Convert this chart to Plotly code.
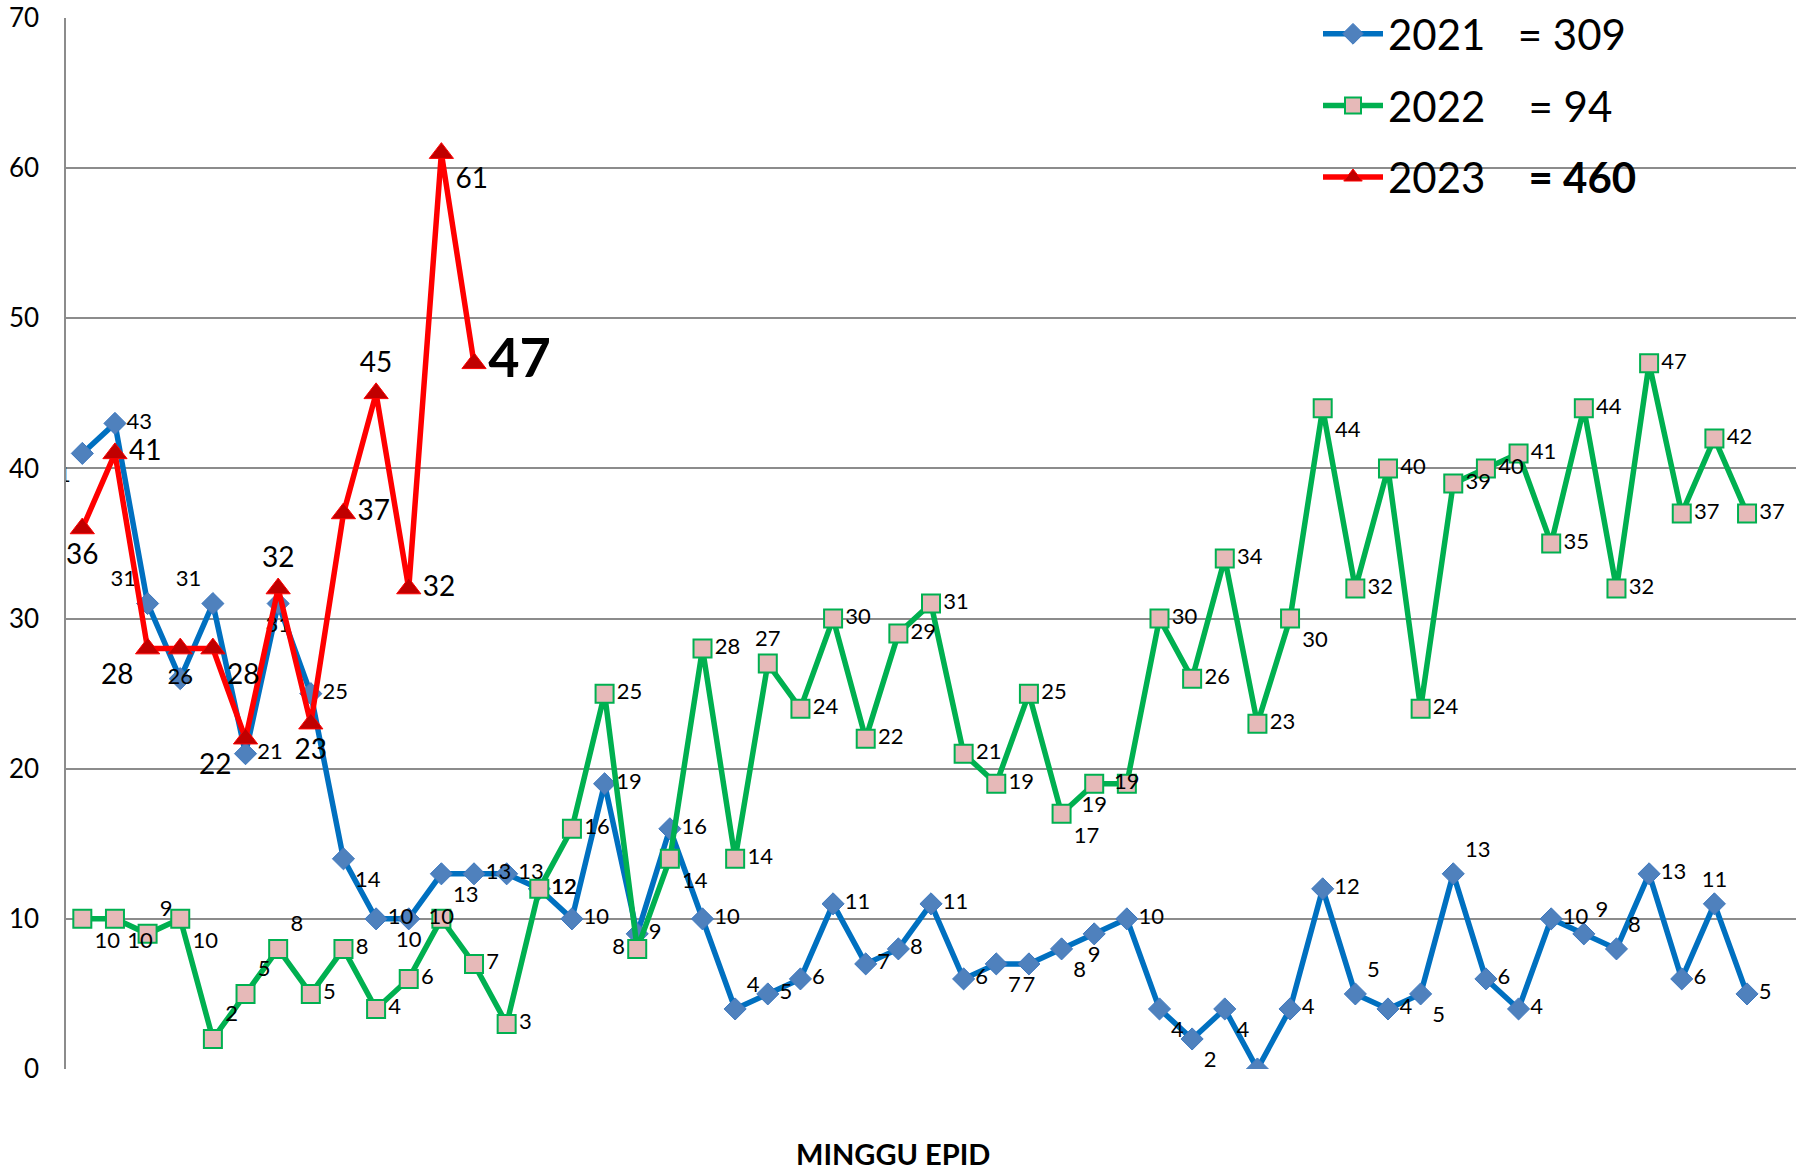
import plotly.graph_objects as go

weeks_2021 = list(range(1, 53))
vals_2021 = [41, 43, 31, 26, 31, 21, 31, 25, 14, 10, 10, 13, 13, 13, 12, 10, 19, 9, 16, 10,
             4, 5, 6, 11, 7, 8, 11, 6, 7, 7, 8, 9, 10, 4, 2, 4, 0, 4, 12, 5,
             4, 5, 13, 6, 4, 10, 9, 8, 13, 6, 11, 5]
weeks_2022 = list(range(1, 53))
vals_2022 = [10, 10, 9, 10, 2, 5, 8, 5, 8, 4, 6, 10, 7, 3, 12, 16, 25, 8, 14, 28,
             14, 27, 24, 30, 22, 29, 31, 21, 19, 25, 17, 19, 19, 30, 26, 34, 23, 30, 44, 32,
             40, 24, 39, 40, 41, 35, 44, 32, 47, 37, 42, 37]
weeks_2023 = list(range(1, 14))
vals_2023 = [36, 41, 28, 28, 28, 22, 32, 23, 37, 45, 32, 61, 47]

series_names = ["2021\u00a0\u00a0\u00a0= 309", "2022\u00a0\u00a0\u00a0\u00a0= 94", "2023\u00a0\u00a0\u00a0\u00a0<b>= 460</b>"]
y_ticks = [0, 10, 20, 30, 40, 50, 60, 70]
x_title = "MINGGU EPID"

# label placement (style)
MR = "middle right"
pos_2021 = [MR] * 52
for i, p in {1: "bottom left", 3: "top left", 4: "middle center", 5: "top left",
             7: "bottom center", 9: "bottom right", 11: "bottom center", 12: "bottom right",
             21: "top right",
             29: "bottom right", 30: "bottom center", 31: "bottom right", 32: "bottom center",
             34: "bottom right", 35: "bottom right", 36: "bottom right", 37: "bottom right",
             40: "top right", 42: "bottom right", 43: "top right", 47: "top right", 48: "top right",
             51: "top center"}.items():
    pos_2021[i - 1] = p
pos_2022 = [MR] * 52
for i, p in {1: "bottom right", 2: "bottom right", 3: "top right", 4: "bottom right", 5: "top right",
             6: "top right", 7: "top right", 12: "middle center", 18: "middle left", 19: "bottom right",
             22: "top center", 31: "bottom right", 32: "bottom center", 33: "middle center",
             38: "bottom right", 39: "bottom right"}.items():
    pos_2022[i - 1] = p
pos_2023 = ["bottom center", MR, "bottom left", "top center", "bottom right", "bottom left",
            "top center", "bottom center", MR, "top center", MR, "bottom right", MR]

text_2023 = [str(v) for v in vals_2023]
text_2023[3] = ""
text_2023[-1] = "<b>" + text_2023[-1] + "</b>"
size_2023 = [28] * len(vals_2023)
size_2023[-1] = 54

FONT = "Lato, 'Open Sans', sans-serif"

fig = go.Figure()
fig.add_trace(go.Scatter(
    x=weeks_2021, y=vals_2021, name=series_names[0], mode="lines+markers+text", legendgroup="a",
    line=dict(color="#0070C0", width=5.5),
    marker=dict(symbol="diamond", size=17, color="#4F81BD", line=dict(color="#3C78C0", width=1)),
    text=[str(v) for v in vals_2021], textposition=pos_2021,
    textfont=dict(size=22, color="black", family=FONT),
))
fig.add_trace(go.Scatter(
    x=weeks_2022, y=vals_2022, name=series_names[1], mode="lines+markers+text", legendgroup="b",
    line=dict(color="#00B050", width=5.5),
    marker=dict(symbol="square", size=18, color="#E6B9B8", line=dict(color="#00B050", width=2)),
    text=[str(v) for v in vals_2022], textposition=pos_2022,
    textfont=dict(size=22, color="black", family=FONT),
))
fig.add_trace(go.Scatter(
    x=weeks_2023, y=vals_2023, name=series_names[2], mode="lines+markers+text", legendgroup="c",
    line=dict(color="#FF0000", width=5.5),
    marker=dict(symbol="triangle-up", size=21, color="#C00000", line=dict(color="#FF0000", width=1)),
    text=text_2023, textposition=pos_2023,
    textfont=dict(size=size_2023, color="black", family=FONT),
))

fig.update_layout(
    width=1796, height=1171,
    margin=dict(l=66, r=0, t=18, b=102, autoexpand=False),
    paper_bgcolor="white", plot_bgcolor="white",
    font=dict(family=FONT, color="black"),
    showlegend=True,
    legend=dict(x=1318 / 1796, y=1 - 0 / 1171, xref="container", yref="container",
                xanchor="left", yanchor="top", bgcolor="rgba(0,0,0,0)",
                font=dict(size=42, color="black", family=FONT), tracegroupgap=14,
                itemwidth=60),
    xaxis=dict(range=[0.5, 53.5], showticklabels=False, showgrid=False, zeroline=False,
               ticks="", showline=False, automargin=False),
    yaxis=dict(range=[0, 70], tickvals=y_ticks, showgrid=True, gridcolor="#8C8C8C", gridwidth=1.5,
               zeroline=False, showline=True, linecolor="#8C8C8C", linewidth=1.5,
               tickfont=dict(size=26, color="black", family=FONT), ticks="",
               ticklabelstandoff=20, automargin=False),
    annotations=[dict(text="<b>" + x_title + "</b>", x=0.478, y=-0.08, xref="paper", yref="paper",
                      xanchor="center", yanchor="middle", showarrow=False,
                      font=dict(size=29, color="black", family=FONT))],
)

fig.write_html("out.html", config={"displayModeBar": False},
               post_script="document.body.style.margin='0';document.body.style.overflow='hidden';")
